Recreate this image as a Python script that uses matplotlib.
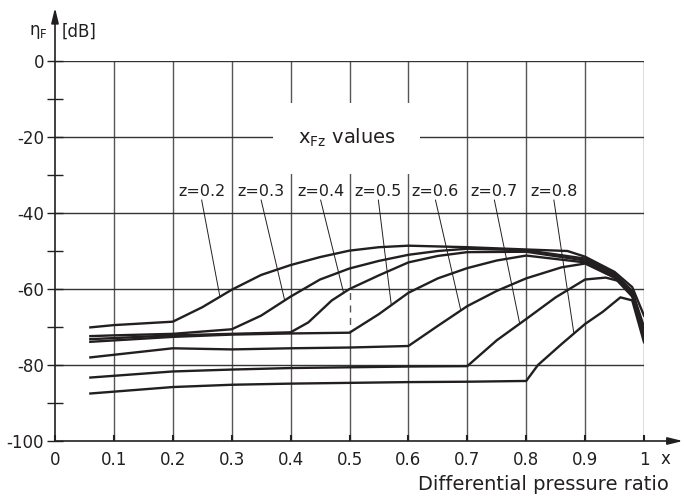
import numpy as np
import matplotlib
matplotlib.use("Agg")
import matplotlib.pyplot as plt

plt.rcParams['font.family'] = ['DejaVu Sans']
plt.rcParams['mathtext.default'] = 'regular'
plt.rcParams['axes.unicode_minus'] = False

ink = '#231f20'

# curves, one per z value (x = differential pressure ratio, y = eta_F in dB)
z_values = [0.2, 0.3, 0.4, 0.5, 0.6, 0.7, 0.8]

x_z02 = [0.06, 0.1, 0.2, 0.25, 0.3, 0.35, 0.4, 0.45, 0.5, 0.55, 0.6, 0.7, 0.8, 0.87, 0.9, 0.95, 0.98, 1.0]
y_z02 = [-70.1, -69.5, -68.6, -64.8, -60.2, -56.3, -53.7, -51.6, -49.9, -49.0, -48.6, -49.0, -49.6, -50.0, -51.5, -55.5, -59.5, -67.0]

x_z03 = [0.06, 0.1, 0.2, 0.3, 0.35, 0.4, 0.45, 0.5, 0.55, 0.6, 0.65, 0.7, 0.8, 0.9, 0.95, 0.98, 1.0]
y_z03 = [-72.4, -72.2, -71.8, -70.6, -67.0, -62.0, -57.5, -54.6, -52.6, -51.0, -50.0, -49.4, -49.8, -52.0, -56.0, -60.5, -70.0]

x_z04 = [0.06, 0.2, 0.3, 0.4, 0.43, 0.47, 0.5, 0.55, 0.6, 0.65, 0.7, 0.8, 0.9, 0.95, 0.98, 1.0]
y_z04 = [-73.2, -72.2, -71.8, -71.4, -68.8, -63.0, -60.0, -56.4, -53.0, -51.3, -50.3, -50.2, -52.5, -56.5, -61.0, -71.0]

x_z05 = [0.06, 0.2, 0.3, 0.4, 0.5, 0.55, 0.6, 0.65, 0.7, 0.75, 0.8, 0.9, 0.95, 0.98, 1.0]
y_z05 = [-73.9, -72.6, -72.0, -71.7, -71.5, -66.6, -61.0, -57.2, -54.5, -52.5, -51.2, -53.0, -57.0, -61.5, -72.0]

x_z06 = [0.06, 0.2, 0.3, 0.4, 0.5, 0.6, 0.65, 0.7, 0.75, 0.8, 0.86, 0.9, 0.95, 0.98, 1.0]
y_z06 = [-78.0, -75.6, -75.9, -75.6, -75.4, -75.0, -69.7, -64.5, -60.5, -57.2, -54.3, -53.3, -57.0, -62.0, -73.0]

x_z07 = [0.06, 0.2, 0.3, 0.4, 0.5, 0.6, 0.7, 0.75, 0.8, 0.85, 0.9, 0.935, 0.96, 0.98, 1.0]
y_z07 = [-83.3, -81.7, -81.2, -80.8, -80.6, -80.4, -80.3, -73.5, -67.9, -62.2, -57.5, -57.0, -58.0, -61.5, -73.5]

x_z08 = [0.06, 0.2, 0.3, 0.4, 0.5, 0.6, 0.7, 0.8, 0.82, 0.86, 0.9, 0.93, 0.96, 0.98, 1.0]
y_z08 = [-87.5, -85.8, -85.2, -84.9, -84.7, -84.5, -84.4, -84.2, -80.0, -74.5, -69.2, -66.0, -62.2, -63.0, -74.0]

curves_x = [x_z02, x_z03, x_z04, x_z05, x_z06, x_z07, x_z08]
curves_y = [y_z02, y_z03, y_z04, y_z05, y_z06, y_z07, y_z08]

# label positions and where the leader lines hit each curve
label_x = [0.249, 0.350, 0.451, 0.549, 0.646, 0.746, 0.847]
label_y = -34.3
leader_top = -36.6
leader_x = [0.28, 0.39, 0.49, 0.571, 0.689, 0.789, 0.881]

x_ticks = [0, 0.1, 0.2, 0.3, 0.4, 0.5, 0.6, 0.7, 0.8, 0.9, 1]
x_ticklabels = ['0', '0.1', '0.2', '0.3', '0.4', '0.5', '0.6', '0.7', '0.8', '0.9', '1']
y_ticks = [0, -20, -40, -60, -80, -100]
y_minor = [-10, -30, -50, -70, -90]

fig = plt.figure(figsize=(6.84, 5.0), dpi=100)
ax = fig.add_axes([55/684, 59/500, 589/684, 380/500])
ax.set_xlim(0, 1)
ax.set_ylim(-100, 0)
for s in ax.spines.values():
    s.set_visible(False)

# grid
for gx in x_ticks[1:]:
    if abs(gx - 0.5) < 1e-9:
        ax.plot([gx, gx], [0, -57.5], color='#555555', lw=1.0, zorder=1)
        ax.plot([gx, gx], [-57.5, -71.5], color='#555555', lw=1.0, ls=(0, (5, 4)), zorder=1)
        ax.plot([gx, gx], [-71.5, -100], color='#555555', lw=1.0, zorder=1)
    else:
        ax.plot([gx, gx], [0, -100], color='#555555', lw=1.0, zorder=1)
for gy in y_ticks[:-1]:
    ax.plot([0, 1], [gy, gy], color='#333333', lw=1.0, zorder=1)

# axes with arrows
ax.annotate('', xy=(0, 14), xytext=(0, -100), annotation_clip=False,
            arrowprops=dict(arrowstyle='-|>,head_length=0.9,head_width=0.22', color=ink, lw=1.2, shrinkA=0, shrinkB=0))
ax.annotate('', xy=(1.066, -100), xytext=(0, -100), annotation_clip=False,
            arrowprops=dict(arrowstyle='-|>,head_length=0.9,head_width=0.22', color=ink, lw=1.2, shrinkA=0, shrinkB=0))

ax.set_xticks(x_ticks)
ax.set_xticklabels(x_ticklabels)
ax.set_yticks(y_ticks)
ax.set_yticks(y_minor, minor=True)
ax.tick_params(axis='y', which='both', direction='inout', length=12, width=1.0, color=ink,
               labelsize=12, labelcolor=ink, pad=2)
ax.tick_params(axis='x', which='major', direction='in', length=4, width=1.5, color=ink,
               labelsize=12, labelcolor=ink, pad=7)

# curves
for cx, cy in zip(curves_x, curves_y):
    ax.plot(cx, cy, color=ink, lw=1.7, solid_joinstyle='round', zorder=4)

# labels and leaders
for z, lx, px, cx, cy in zip(z_values, label_x, leader_x, curves_x, curves_y):
    ax.text(lx, label_y, 'z={:.1f}'.format(z), ha='center', va='center', fontsize=11.5,
            color=ink, zorder=5)
    ax.plot([lx, px], [leader_top, np.interp(px, cx, cy)], color=ink, lw=0.7, zorder=3)

ax.text(0.495, -20.3, r'x$_{Fz}$ values', ha='center', va='center', fontsize=14, color=ink,
        zorder=5, bbox=dict(facecolor='white', edgecolor='none', boxstyle='square,pad=1.25'))

# axis titles
ax.text(-0.012, 7.6, r'$\eta_F$', ha='right', va='center', fontsize=12, color=ink)
ax.text(0.012, 7.6, '[dB]', ha='left', va='center', fontsize=12, color=ink)
ax.text(1.037, -104.8, 'x', ha='center', va='center', fontsize=12, color=ink)
ax.text(1.043, -111.4, 'Differential pressure ratio', ha='right', va='center', fontsize=14, color=ink)

fig.savefig('out.png', dpi=100)
